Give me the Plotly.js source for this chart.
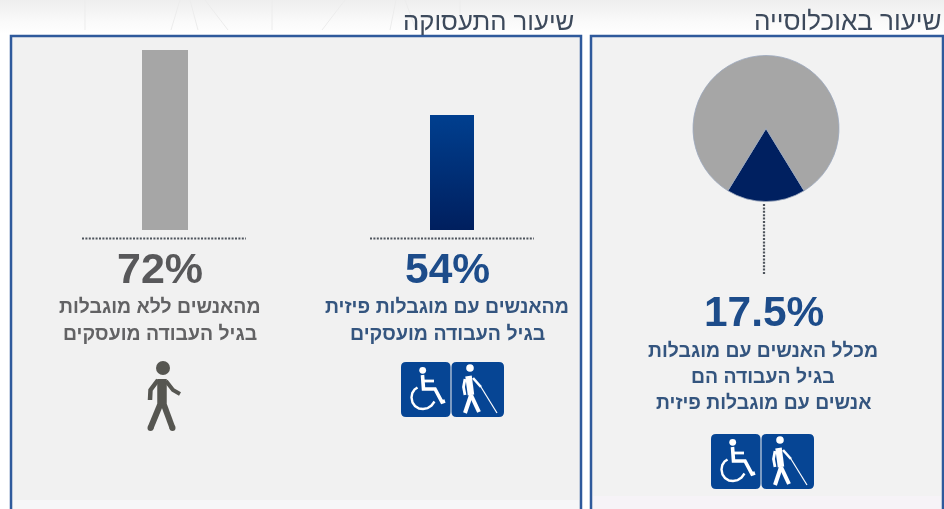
<!DOCTYPE html>
<html lang="he">
<head>
<meta charset="utf-8">
<script src="https://cdn.plot.ly/plotly-3.0.1.min.js"></script>
<style>
html,body{margin:0;padding:0;width:944px;height:509px;overflow:hidden;background:linear-gradient(#eeeeee 0,#fafafa 22px,#ffffff 34px);}
#chart{width:944px;height:509px;filter:blur(0.6px);}
</style>
</head>
<body>
<div id="chart"></div>
<script>
// Data
const populationLabels = ['אנשים עם מוגבלות פיזית', 'שאר האנשים בגיל העבודה'];
const populationShares = [17.5, 82.5];
const employmentCategories = ['ללא מוגבלות', 'עם מוגבלות פיזית'];
// Heights as the bars are drawn in the reference: the blue bar is shorter there than its 54% label implies.
const drawnBarHeights = [72, 46];
const sectionTitles = ['שיעור באוכלוסייה', 'שיעור התעסוקה'];
const bigNumbers = ['17.5%', '54%', '72%'];
const populationLines = ['מכלל האנשים עם מוגבלות', 'בגיל העבודה הם', 'אנשים עם מוגבלות פיזית'];
const withDisabilityLines = ['מהאנשים עם מוגבלות פיזית', 'בגיל העבודה מועסקים'];
const withoutDisabilityLines = ['מהאנשים ללא מוגבלות', 'בגיל העבודה מועסקים'];

// Page helpers: pixel position to paper fraction
const W = 944, H = 509;
const fx = x => x / W, fy = y => 1 - y / H;
const pt = (x, y) => fx(x).toFixed(5) + ',' + fy(y).toFixed(5);
const poly = pts => 'M' + pts.map(p => pt(p[0], p[1])).join(' L');
const shapes = [];
const rect = (x0, y0, x1, y1, fill, line, lw, layer) => shapes.push({type:'rect', xref:'paper', yref:'paper', x0:fx(x0), x1:fx(x1), y0:fy(y0), y1:fy(y1), fillcolor:fill, line:{color:line||fill, width:lw||0}, layer:layer||'below'});
const stroke = (pts, color, w) => shapes.push({type:'path', xref:'paper', yref:'paper', path:poly(pts), line:{color:color, width:w}, layer:'above'});
const disc = (cx, cy, r, color) => shapes.push({type:'circle', xref:'paper', yref:'paper', x0:fx(cx-r), x1:fx(cx+r), y0:fy(cy+r), y1:fy(cy-r), fillcolor:color, line:{width:0}, layer:'above'});
const rounded = (x0, y0, x1, y1, r, fill) => shapes.push({type:'path', xref:'paper', yref:'paper', layer:'above', fillcolor:fill, line:{width:0},
  path:'M'+pt(x0+r,y0)+' L'+pt(x1-r,y0)+' Q'+pt(x1,y0)+' '+pt(x1,y0+r)+' L'+pt(x1,y1-r)+' Q'+pt(x1,y1)+' '+pt(x1-r,y1)+' L'+pt(x0+r,y1)+' Q'+pt(x0,y1)+' '+pt(x0,y1-r)+' L'+pt(x0,y0+r)+' Q'+pt(x0,y0)+' '+pt(x0+r,y0)+' Z'});

// Faint background rays above the panels
[[85,0,85,30],[180,0,171,30],[190,0,198,30],[205,0,228,30],[272,0,272,30],[345,0,322,30],[396,0,390,30],[405,0,416,30],[460,0,460,30]].forEach(r => stroke([[r[0],r[1]],[r[2],r[3]]], '#ececec', 1));
shapes.forEach(s => s.layer = 'below');

// Panels
rect(11, 36, 581, 515, '#f1f1f1', '#2f5a9c', 2.5);
rect(591, 36, 943, 515, '#f2f2f2', '#2f5a9c', 2.5);
rect(13, 500, 579, 509, '#f6f6f8');
rect(593, 496, 941, 509, '#f6f3f7');

// Dotted leaders
const dotted = (x0, y0, x1, y1) => shapes.push({type:'line', xref:'paper', yref:'paper', x0:fx(x0), x1:fx(x1), y0:fy(y0), y1:fy(y1), line:{color:'#4e545c', width:2.2, dash:'2px 1.4px'}, layer:'above'});
dotted(82, 238.5, 246, 238.5);
dotted(370, 238.5, 534, 238.5);
dotted(764, 204, 764, 274);

// Icon pair
function iconPair(ox, oy) {
  const blue = '#064594', wh = '#ffffff';
  rounded(ox, oy, ox+49.5, oy+55, 5, blue);
  rounded(ox+50.5, oy, ox+103, oy+55, 5, blue);
  const o = p => [ox + p[0] - 711, oy + p[1] - 434];
  const s = (pts, w) => stroke(pts.map(o), wh, w);
  const d = (x, y, r) => { const c = o([x, y]); disc(c[0], c[1], r, wh); };
  d(732.7, 442.3, 3.4);
  s([[732.5,447],[733.5,461],[745,461],[752,474],[755,473]], 3.6);
  s([[733,453],[744,453]], 2.8);
  s([[727.5,459.5],[724.5,461.5],[722.3,465],[721.5,469.5],[722.5,474.5],[725,478],[729,480.5],[733,481],[737.5,480.2],[741.5,477.5],[744.5,473.5]], 2.4);
  d(780, 440, 3.8);
  s([[778.5,448],[781,467]], 6.5);
  s([[781,467],[775,485]], 4);
  s([[781,467],[789,484]], 4);
  s([[775,451],[773.5,459],[775,467]], 2.8);
  s([[783,450],[791,459]], 2.6);
  s([[791,459],[807,485]], 1.2);
}
iconPair(711, 434);
iconPair(401, 362);

// Walking person
const grey = '#565651';
disc(163, 368, 7, grey);
stroke([[162,379],[162,406]], grey, 9.5);
stroke([[160,405],[150.5,428]], grey, 6);
stroke([[164,405],[172.5,428]], grey, 6);
disc(150.5, 428, 3, grey);
disc(172.5, 428, 3, grey);
stroke([[158,380],[150.5,390],[150,400]], grey, 4.5);
stroke([[166,381],[173,390],[180,394]], grey, 4);

// Text
const annotations = [];
const label = (text, x, y, size, color, weight) => annotations.push({text:text, xref:'paper', yref:'paper', x:fx(x), y:fy(y), xanchor:'center', yanchor:'middle', showarrow:false,
  font:{family:'"Liberation Sans", Arial, sans-serif', size:size, color:color, weight:weight||400}});
label(sectionTitles[0], 848, 21, 26, '#3d4a5c');
label(sectionTitles[1], 488.5, 21, 25.7, '#3d4a5c');
label(bigNumbers[0], 764, 311, 42.4, '#1d4c8a', 700);
label(bigNumbers[1], 447, 268, 42.5, '#1d4c8a', 700);
label(bigNumbers[2], 160, 268, 43, '#58585a', 700);
const blueText = '#34557f', greyText = '#626264';
populationLines.forEach((t, i) => label(t, 763, 350 + i * 26, 19.4, blueText, 700));
withDisabilityLines.forEach((t, i) => label(t, 447, 306 + i * 27, 19.5, blueText, 700));
withoutDisabilityLines.forEach((t, i) => label(t, 159.5, 306 + i * 27, 19.4, greyText, 700));

// Axis geometry: category centres sit at x=165 and x=452, the baseline at y=230, the top at y=50
const catStep = 452 - 165;
const data = [
  {type:'pie', labels:populationLabels, values:populationShares, sort:false, direction:'clockwise', rotation:148.5,
   domain:{x:[fx(693), fx(839)], y:[fy(202), fy(55)]}, textinfo:'none', hoverinfo:'skip',
   marker:{colors:['#002060', '#a6a6a6'], line:{color:'#9aa7bd', width:0.8}}},
  {type:'bar', x:employmentCategories, y:drawnBarHeights, width:[46/catStep, 44/catStep], hoverinfo:'skip',
   marker:{color:['#a6a6a6', '#00307a'], line:{width:0}}}
];
const layout = {
  width:W, height:H, margin:{l:0, r:0, t:0, b:0}, showlegend:false,
  paper_bgcolor:'rgba(0,0,0,0)', plot_bgcolor:'rgba(0,0,0,0)',
  xaxis:{type:'category', categoryarray:employmentCategories, range:[-165/catStep, (W-165)/catStep], visible:false, fixedrange:true},
  yaxis:{domain:[fy(230), fy(50)], range:[0, 72], visible:false, fixedrange:true},
  shapes:shapes, annotations:annotations
};
Plotly.newPlot('chart', data, layout, {displayModeBar:false, staticPlot:true}).then(gd => {
  // Vertical gradient on the blue bar, as in the reference
  const svg = gd.querySelector('svg.main-svg');
  const ns = 'http://www.w3.org/2000/svg';
  const g = document.createElementNS(ns, 'linearGradient');
  g.setAttribute('id', 'blueBar'); g.setAttribute('x1', '0'); g.setAttribute('y1', '0'); g.setAttribute('x2', '0'); g.setAttribute('y2', '1');
  [['0', '#003f8f'], ['1', '#001f5e']].forEach(c => { const st = document.createElementNS(ns, 'stop'); st.setAttribute('offset', c[0]); st.setAttribute('stop-color', c[1]); g.appendChild(st); });
  const defs = svg.querySelector('defs') || svg.insertBefore(document.createElementNS(ns, 'defs'), svg.firstChild);
  defs.appendChild(g);
  const bars = gd.querySelectorAll('.barlayer .point path');
  if (bars[1]) bars[1].style.fill = 'url(#blueBar)';
});
</script>
</body>
</html>
